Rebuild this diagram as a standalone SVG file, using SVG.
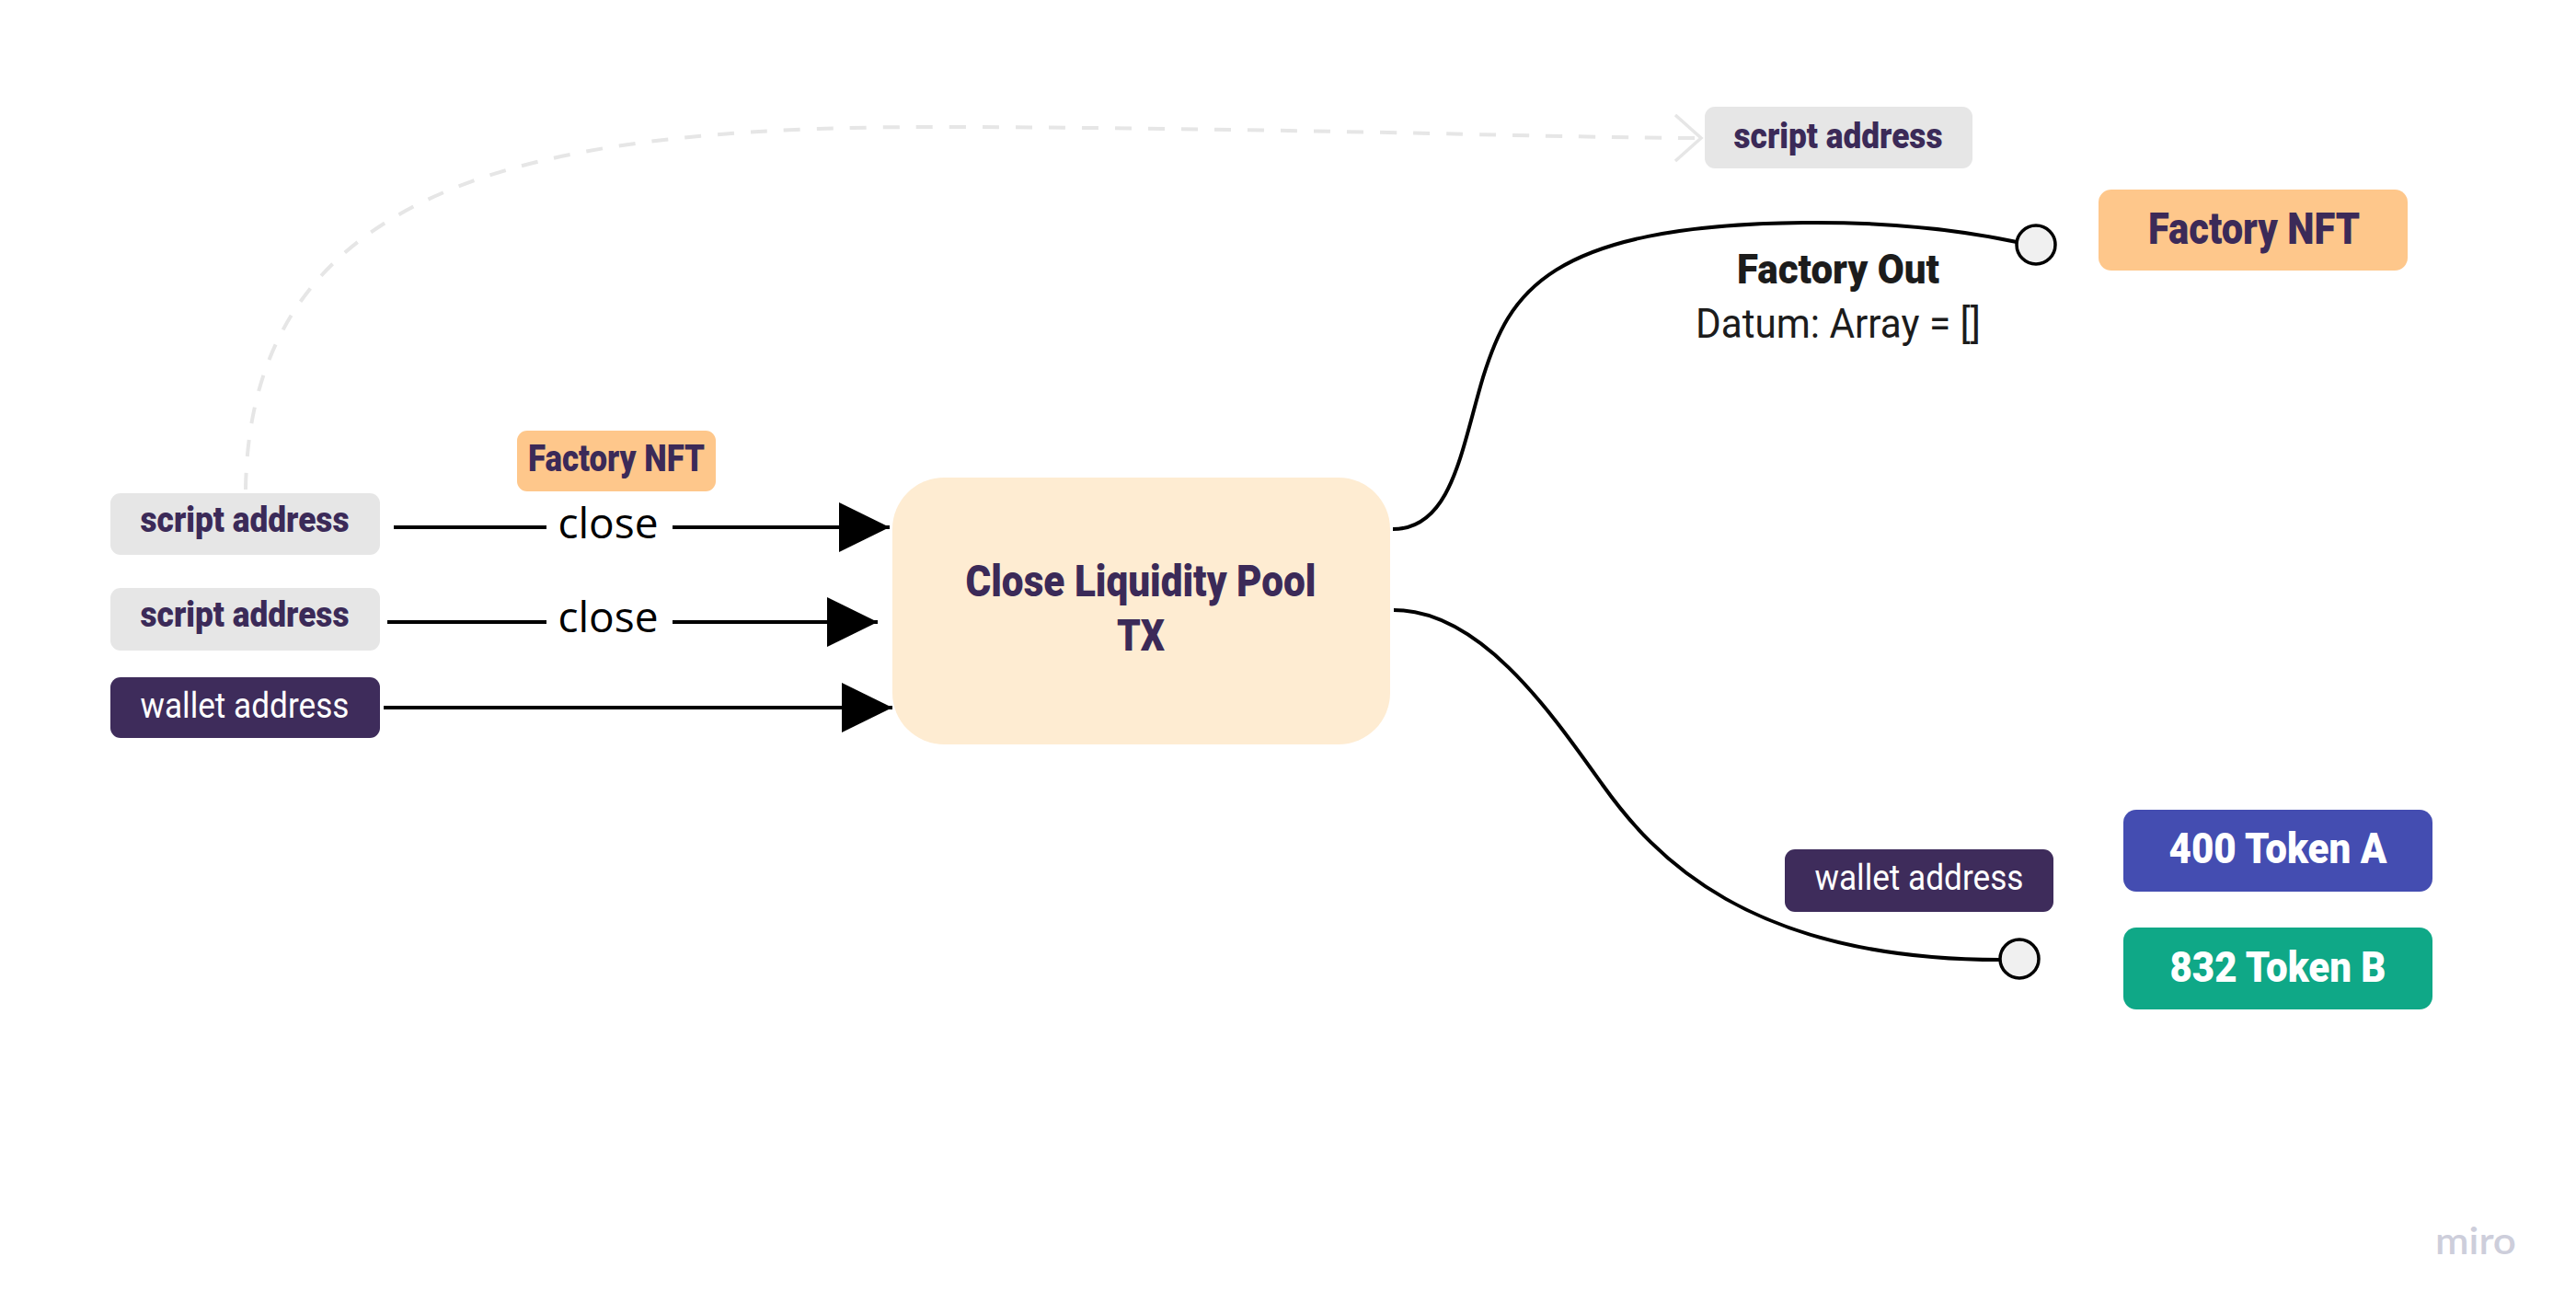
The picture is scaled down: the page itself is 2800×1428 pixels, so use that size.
<svg xmlns="http://www.w3.org/2000/svg" width="2800" height="1428" viewBox="0 0 2800 1428">
<style>
.lbl{font-family:Roboto,"Liberation Sans",sans-serif;font-weight:900;fill:#3b2a58;text-anchor:middle}
.wl{font-family:Roboto,"Liberation Sans",sans-serif;font-weight:400;fill:#ffffff;text-anchor:middle}
.wb{font-family:Roboto,"Liberation Sans",sans-serif;font-weight:900;fill:#ffffff;text-anchor:middle}
.gray{fill:#e6e6e6}
.nft{fill:#fec78b}
.wal{fill:#3e2c5b}
.edge{fill:none;stroke:#000;stroke-width:4}
.close{font-family:"Open Sans","Noto Sans",sans-serif;font-size:46px;fill:#000;text-anchor:middle}
.dot{fill:#f0f0f0;stroke:#000;stroke-width:3.5}
</style>
<defs>
<marker id="tri" markerUnits="userSpaceOnUse" markerWidth="56" markerHeight="56" refX="55" refY="27" orient="auto" viewBox="0 0 56 56">
<path d="M0,0 L55,27 L0,54 Z" fill="#000"/>
</marker>
<marker id="chev" markerUnits="userSpaceOnUse" markerWidth="40" markerHeight="60" refX="30" refY="26" orient="auto" viewBox="0 0 40 60">
<path d="M2,1 L30,26 L2,51" fill="none" stroke="#e6e6e6" stroke-width="3.5"/>
</marker>
</defs>
<rect width="2800" height="1428" fill="#ffffff"/>

<g id="connectors">
<path d="M267 532 C 272 180, 620 136, 1050 138 C 1450 140, 1700 150, 1849 150" fill="none" stroke="#e6e6e6" stroke-width="4" stroke-dasharray="18 18" marker-end="url(#chev)"/>
<line class="edge" x1="428" y1="573" x2="594" y2="573"/>
<line class="edge" x1="731" y1="573" x2="967" y2="573" marker-end="url(#tri)"/>
<text class="close" x="661" y="585">close</text>
<line class="edge" x1="421" y1="676" x2="594" y2="676"/>
<line class="edge" x1="731" y1="676" x2="954" y2="676" marker-end="url(#tri)"/>
<text class="close" x="661" y="687">close</text>
<line class="edge" x1="417" y1="769" x2="970" y2="769" marker-end="url(#tri)"/>
<path class="edge" d="M1514 575 C 1578 575, 1588 490, 1612 410 C 1640 320, 1680 245, 1960 242 C 2060 241, 2140 252, 2192 263"/>
<circle class="dot" cx="2213" cy="266" r="21"/>
<path class="edge" d="M1515 663 C 1610 663, 1687 776, 1742 853 C 1797 930, 1900 1043, 2174 1043"/>
<circle class="dot" cx="2195" cy="1042" r="21"/>
<text x="1998" y="308" font-family="Roboto,'Liberation Sans',sans-serif" font-weight="900" font-size="45" fill="#1c1c1c" text-anchor="middle" textLength="220" lengthAdjust="spacingAndGlyphs">Factory Out</text>
<text x="1998" y="367" font-family="Roboto,'Liberation Sans',sans-serif" font-weight="400" font-size="45" fill="#1c1c1c" text-anchor="middle" textLength="310" lengthAdjust="spacingAndGlyphs">Datum: Array = []</text>
</g>

<g id="script-address-top">
<rect class="gray" x="1853" y="116" width="291" height="67" rx="11"/>
<text class="lbl" x="1998" y="161" font-size="38" textLength="227" lengthAdjust="spacingAndGlyphs">script address</text>
</g>

<g id="factory-nft-out">
<rect class="nft" x="2281" y="206" width="336" height="88" rx="14"/>
<text class="lbl" x="2450" y="265" font-size="48" textLength="230" lengthAdjust="spacingAndGlyphs">Factory NFT</text>
</g>

<g id="factory-nft-in">
<rect class="nft" x="562" y="468" width="216" height="66" rx="11"/>
<text class="lbl" x="670" y="512" font-size="40" textLength="192" lengthAdjust="spacingAndGlyphs">Factory NFT</text>
</g>

<g id="script-address-1">
<rect class="gray" x="120" y="536" width="293" height="67" rx="11"/>
<text class="lbl" x="266" y="578" font-size="38" textLength="227" lengthAdjust="spacingAndGlyphs">script address</text>
</g>

<g id="script-address-2">
<rect class="gray" x="120" y="639" width="293" height="68" rx="11"/>
<text class="lbl" x="266" y="681" font-size="38" textLength="227" lengthAdjust="spacingAndGlyphs">script address</text>
</g>

<g id="wallet-address-in">
<rect class="wal" x="120" y="736" width="293" height="66" rx="11"/>
<text class="wl" x="266" y="780" font-size="38" textLength="227" lengthAdjust="spacingAndGlyphs">wallet address</text>
</g>

<g id="close-pool-tx">
<rect x="970" y="519" width="541" height="290" rx="56" fill="#feecd2"/>
<text class="lbl" x="1240" y="648" font-size="49" textLength="381" lengthAdjust="spacingAndGlyphs">Close Liquidity Pool</text>
<text class="lbl" x="1240" y="707" font-size="49" textLength="52" lengthAdjust="spacingAndGlyphs">TX</text>
</g>

<g id="wallet-address-out">
<rect class="wal" x="1940" y="923" width="292" height="68" rx="11"/>
<text class="wl" x="2086" y="967" font-size="38" textLength="227" lengthAdjust="spacingAndGlyphs">wallet address</text>
</g>

<g id="token-a">
<rect x="2308" y="880" width="336" height="89" rx="14" fill="#444db1"/>
<text class="wb" x="2476" y="938" font-size="47" textLength="237" lengthAdjust="spacingAndGlyphs">400 Token A</text>
</g>

<g id="token-b">
<rect x="2308" y="1008" width="336" height="89" rx="14" fill="#0fa887"/>
<text class="wb" x="2476" y="1067" font-size="47" textLength="235" lengthAdjust="spacingAndGlyphs">832 Token B</text>
</g>

<text x="2691" y="1363" font-family="Lato,'Open Sans',sans-serif" font-weight="600" font-size="40" fill="#cdcedb" text-anchor="middle" textLength="88" lengthAdjust="spacingAndGlyphs">miro</text>
</svg>
